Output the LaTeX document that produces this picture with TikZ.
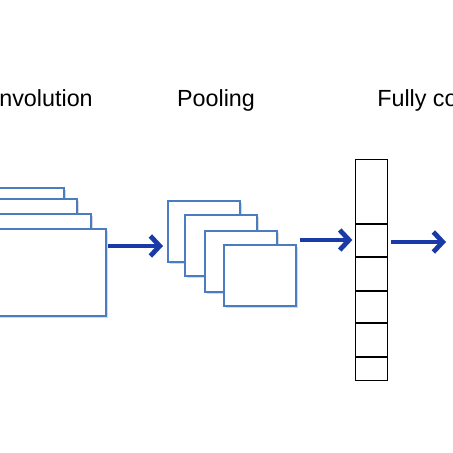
\documentclass[tikz,border=0pt]{standalone}
\usepackage{fontspec}
\setmainfont{Liberation Sans}
\usetikzlibrary{arrows.meta,shadows}
\definecolor{layerblue}{RGB}{74,124,192}
\definecolor{flowblue}{RGB}{26,58,168}
\tikzset{
	layer/.style={draw=layerblue, line width=1.4pt, fill=white, inner sep=0pt,
		drop shadow={shadow xshift=1.2pt, shadow yshift=-1.6pt, opacity=0.3}},
	convmap/.style={layer, anchor=north east, minimum width=97.5pt, minimum height=65.25pt},
	poolmap/.style={layer, anchor=north west, minimum width=54pt, minimum height=45.75pt},
	flow/.style={draw=flowblue, line width=3pt, -{Straight Barb[length=7pt,width=15pt,line width=3.6pt]}},
	title/.style={font=\fontsize{17.5pt}{21pt}\selectfont, inner sep=0pt}
}
\begin{document}
\begin{tikzpicture}[x=0.75pt, y=-0.75pt]
		%%%%% START %%%%%
		\useasboundingbox (0, 0) rectangle (453, 453);
		\clip (0, 0) rectangle (453, 453);
		
		% titles
		\node[title, anchor=base east] (convtitle) at (93, 107) {Convolution};
		\node[title, anchor=base] (pooltitle) at (216, 107) {Pooling};
		\node[title, anchor=base west] (fctitle) at (377, 107) {Fully connected};
		
		% convolution maps
		\node[convmap] (conv1) at (65, 187) {};
		\node[convmap] (conv2) at (78, 198) {};
		\node[convmap] (conv3) at (92, 213) {};
		\node[convmap] (conv4) at (107, 228) {};
		
		% pooling maps
		\node[poolmap] (pool1) at (167, 200) {};
		\node[poolmap] (pool2) at (184, 214) {};
		\node[poolmap] (pool3) at (204, 230) {};
		\node[poolmap] (pool4) at (223, 244) {};
		
		% fully connected column
		\node[draw=black, line width=0.8pt, anchor=north west, inner sep=0pt,
			minimum width=24pt, minimum height=165.75pt] (fc) at (355, 159) {};
		\foreach \y in {224, 257, 291, 323, 357}
			\draw[line width=0.8pt] (fc.west |- 0, \y) -- (fc.east |- 0, \y);
		
		% arrows
		\coordinate (out) at (446, 242);
		\draw[flow] ([xshift=1pt]conv4.east |- 0, 246) -- ([xshift=-3pt]pool1.west |- 0, 246);
		\draw[flow] ([xshift=2pt]pool4.east |- 0, 240) -- ([xshift=-2pt]fc.west |- 0, 240);
		\draw[flow] ([xshift=2pt]fc.east |- out) -- (out);
		
		%%%%% END %%%%%
\end{tikzpicture}
\end{document}
